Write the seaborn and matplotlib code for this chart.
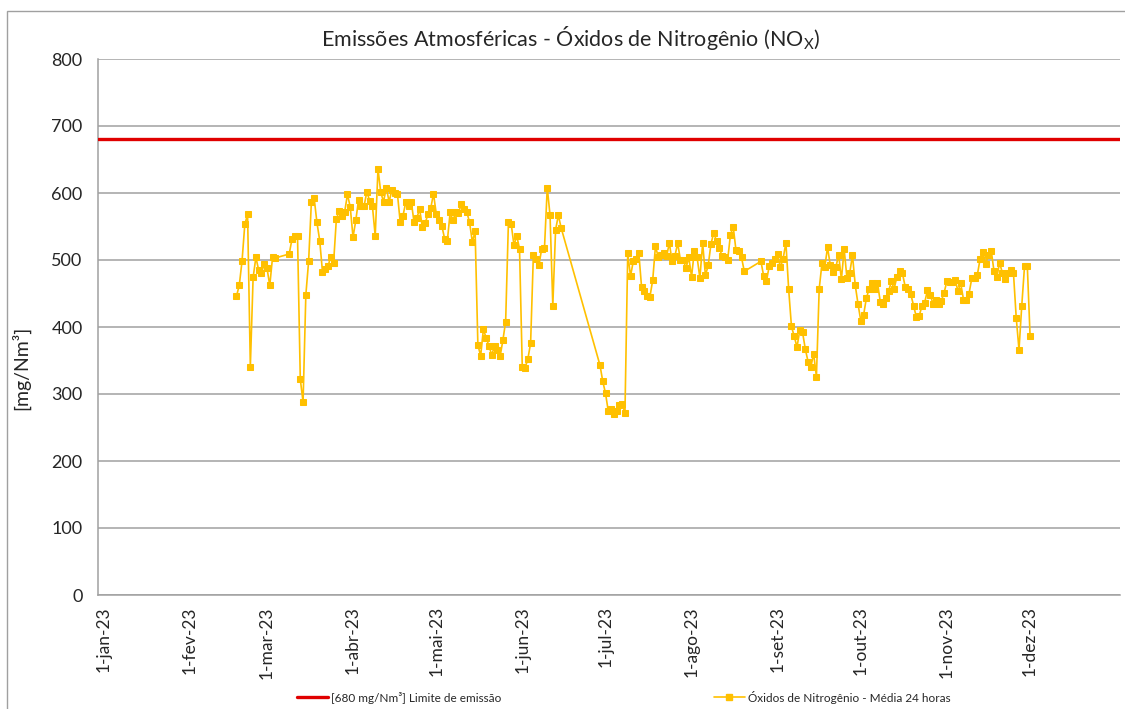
import matplotlib
matplotlib.use("Agg")
import matplotlib.pyplot as plt
import matplotlib.dates as mdates
from matplotlib.patches import Rectangle
from matplotlib.lines import Line2D
import pandas as pd
import seaborn as sns

# daily means, in contiguous runs of days (start date + values)
run1_start = "2023-02-18"
nox_run1 = [446, 462, 498, 553, 568, 341, 474, 504, 485, 481, 494, 488, 462, 504, 503]

run2_start = "2023-03-09"
nox_run2 = [509, 531, 536, 536, 322, 288, 448, 498, 587, 592,
            556, 529, 482, 487, 491, 505, 496, 561, 573, 566,
            572, 598, 579, 534, 559, 590, 580, 581, 602, 588,
            580, 536, 636, 601, 587, 608, 587, 604, 600, 599,
            557, 566, 586, 580, 587, 556, 563, 576, 549, 555,
            568, 577, 599, 569, 559, 551, 532, 529, 571, 559,
            571, 570, 583, 576, 572, 556, 527, 543, 373, 357,
            397, 383, 372, 358, 372, 365, 356, 380, 408, 556,
            554, 522, 536, 517, 340, 339, 352, 376, 508, 501,
            492, 517, 518, 608, 567, 432, 545, 567, 548]

run3_start = "2023-06-29"
nox_run3 = [343, 319, 301, 274, 277, 270, 274, 283, 285, 272,
            510, 476, 498, 502, 510, 459, 454, 447, 445, 470,
            521, 504, 507, 511, 506, 525, 498, 506, 525, 500,
            500, 488, 504, 475, 513, 504, 473, 525, 477, 492,
            524, 541, 528, 518, 506, 505, 500, 537, 550, 515,
            513, 504, 483]

run4_start = "2023-08-26"
nox_run4 = [498, 476, 469, 491, 496, 502, 509, 489, 502, 526,
            456, 401, 386, 370, 395, 392, 367, 348, 341, 360,
            326, 457, 495, 489, 519, 492, 482, 489, 508, 471,
            516, 473, 481, 507, 462, 434, 409, 418, 443, 457,
            466, 456, 466, 438, 435, 444, 453, 468, 457, 475,
            483, 480, 460, 457, 449, 432, 415, 416, 431, 436,
            455, 448, 435, 441, 435, 439, 451, 468, 467, 467,
            470, 454, 465, 441, 441, 450, 473, 473, 478, 502,
            512, 494, 508, 514, 483, 474, 496, 481, 471, 481,
            485, 481, 414, 366, 432, 491, 491, 386]

limit_value = 680
limit_label = "[680 mg/Nm\u00b3] Limite de emiss\u00e3o"
series_label = "\u00d3xidos de Nitrog\u00eanio - M\u00e9dia 24 horas"
month_ticks = ["1-jan-23", "1-fev-23", "1-mar-23", "1-abr-23", "1-mai-23", "1-jun-23",
               "1-jul-23", "1-ago-23", "1-set-23", "1-out-23", "1-nov-23", "1-dez-23"]

frames = []
for start, vals in [(run1_start, nox_run1), (run2_start, nox_run2),
                    (run3_start, nox_run3), (run4_start, nox_run4)]:
    frames.append(pd.DataFrame({"data": pd.date_range(start, periods=len(vals), freq="D"),
                                "nox": vals}))
df = pd.concat(frames, ignore_index=True)

sns.set_style("white")
plt.rcParams["font.family"] = ["Lato", "DejaVu Sans"]
plt.rcParams["mathtext.default"] = "regular"

red = "#E00000"
gold = "#FFC000"
grid = "#A0A0A0"

fig = plt.figure(figsize=(11.25, 7.09), dpi=100)
ax = fig.add_axes([98 / 1125, 1 - 595 / 709, (1120 - 98) / 1125, (595 - 59) / 709])

ax.axhline(limit_value, color=red, lw=2.4, zorder=3)
sns.lineplot(data=df, x="data", y="nox", ax=ax, color=gold, lw=1.2,
             marker="s", markersize=4, markeredgecolor=gold, zorder=4)

ax.set_ylim(0, 800)
ax.set_yticks(range(0, 801, 100))
jan1 = mdates.date2num(pd.Timestamp("2023-01-01"))
ax.set_xlim(jan1 - 1.9, jan1 + 366.4)
tick_dates = pd.date_range("2023-01-01", periods=len(month_ticks), freq="MS")
ax.set_xticks(mdates.date2num(tick_dates))
ax.set_xticklabels(month_ticks, rotation=90)
ax.tick_params(axis="x", length=0, pad=8, labelsize=12.5)
ax.tick_params(axis="y", length=0, pad=11, labelsize=13)

ax.grid(axis="y", color=grid, lw=1.1)
ax.set_axisbelow(True)
for side in ["top", "right"]:
    ax.spines[side].set_visible(False)
for side in ["left", "bottom"]:
    ax.spines[side].set_color(grid)
    ax.spines[side].set_linewidth(1.1)

ax.set_xlabel("")
ax.set_ylabel("[mg/Nm\u00b3]", fontsize=14)
ax.yaxis.set_label_coords((30 - 98) / 1022, (595 - 368) / 536)

fig.text(571 / 1125, 1 - 38 / 709,
         "Emiss\u00f5es Atmosf\u00e9ricas - \u00d3xidos de Nitrog\u00eanio (NO$_X$)",
         ha="center", va="center", fontsize=15.5)

# chart area border (cropped on right/bottom)
fig.add_artist(Rectangle((7 / 1125, -0.1), 2, 1 - 11 / 709 + 0.1,
                         transform=fig.transFigure, fill=False,
                         edgecolor="#A0A0A0", lw=1))

handles = [Line2D([], [], color=red, lw=2.4),
           Line2D([], [], color=gold, lw=1.2, marker="s", markersize=4)]
fig.legend(handles, [limit_label, series_label], loc="center",
           bbox_to_anchor=(624 / 1125, 1 - 697 / 709), ncol=2, frameon=False,
           fontsize=8.5, columnspacing=18, handlelength=2.6, handletextpad=0.3)

fig.savefig("out.png", dpi=100)
plt.close(fig)
